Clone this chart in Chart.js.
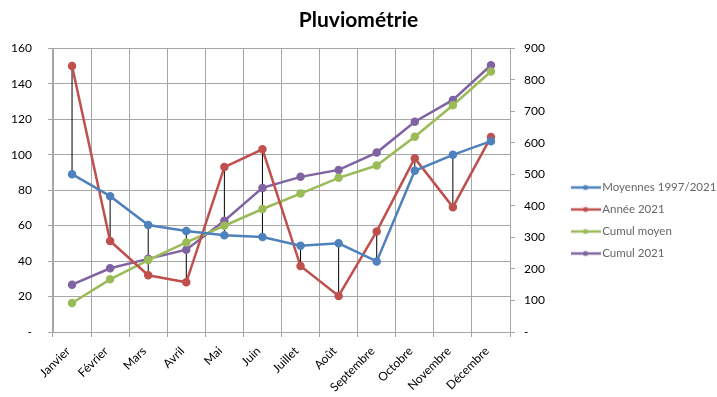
<!DOCTYPE html>
<html>
<head>
<meta charset="utf-8">
<script src="https://cdn.jsdelivr.net/npm/chart.js@4"></script>
<style>
  html, body { margin: 0; padding: 0; background: #fff; }
  #wrap { width: 717px; height: 397px; }
</style>
</head>
<body>
<div id="wrap"><canvas id="pluvioChart" width="717" height="397"></canvas></div>
<script>
// Pluviométrie mensuelle
const mois = ["Janvier", "Février", "Mars", "Avril", "Mai", "Juin", "Juillet", "Août", "Septembre", "Octobre", "Novembre", "Décembre"]
const moyennes = [89, 76.6, 60.3, 57, 54.6, 53.5, 48.6, 50, 39.8, 90.9, 99.9, 107.6]
const annee2021 = [150, 51.3, 32, 28, 93, 103, 37.2, 20.3, 56.7, 98, 70.4, 110]
const cumulMoyen = [92, 167, 228, 284, 337, 390, 439, 489, 528, 619, 719, 826]
const cumul2021 = [150, 202, 232, 261, 353, 457, 492, 514, 569, 667, 736, 846]

const leftTicks = [0, 20, 40, 60, 80, 100, 120, 140, 160]
const rightTicks = [0, 100, 200, 300, 400, 500, 600, 700, 800, 900]

const colors = {
  blue: "#4F81BD",
  red: "#C0504D",
  green: "#9BBB59",
  purple: "#8064A2",
}

// legend marker: line with a dot in the middle
function lineMarker(color) {
  const c = document.createElement("canvas")
  c.width = 30
  c.height = 8
  const g = c.getContext("2d")
  g.strokeStyle = color
  g.lineWidth = 2.5
  g.beginPath()
  g.moveTo(0, 4)
  g.lineTo(30, 4)
  g.stroke()
  g.fillStyle = color
  g.beginPath()
  g.arc(15, 4, 2.5, 0, Math.PI * 2)
  g.fill()
  return c
}

// high-low lines between the two primary-axis series
const highLow = moyennes.map((m, i) => [Math.min(m, annee2021[i]), Math.max(m, annee2021[i])])

function lineSet(label, data, color, axis) {
  return {
    type: "line",
    label: label,
    data: data,
    yAxisID: axis,
    borderColor: color,
    backgroundColor: color,
    borderWidth: 2.5,
    pointRadius: 3,
    pointHoverRadius: 3,
    pointBackgroundColor: color,
    pointBorderColor: color,
    tension: 0,
    order: 1,
    legendMarker: lineMarker(color),
  }
}

const fontFamily = "Lato, 'Open Sans', sans-serif"

document.addEventListener("DOMContentLoaded", () => {
  const ctx = document.getElementById("pluvioChart")
  new Chart(ctx, {
    data: {
      labels: mois,
      datasets: [
        {
          type: "bar",
          label: "hl",
          data: highLow,
          yAxisID: "y",
          backgroundColor: "#000000",
          barThickness: 1,
          inflateAmount: 0,
          order: 10,
        },
        lineSet("Moyennes 1997/2021", moyennes, colors.blue, "y"),
        lineSet("Année 2021", annee2021, colors.red, "y"),
        lineSet("Cumul moyen", cumulMoyen, colors.green, "y1"),
        lineSet("Cumul 2021", cumul2021, colors.purple, "y1"),
      ],
    },
    options: {
      responsive: false,
      animation: false,
      layout: {
        padding: { left: 0, right: 0, top: 8, bottom: 0 },
      },
      plugins: {
        title: {
          display: true,
          text: "Pluviométrie",
          color: "#000",
          font: { family: fontFamily, size: 21, weight: "bold" },
          padding: { top: 0, bottom: 15 },
        },
        legend: {
          position: "right",
          maxWidth: 153,
          title: { display: true, text: " ", font: { size: 30 }, padding: 0 },
          labels: {
            color: "#000",
            font: { family: fontFamily, size: 11.5 },
            usePointStyle: true,
            pointStyleWidth: 22,
            padding: 10.5,
            filter: (item) => item.datasetIndex > 0,
            generateLabels: (chart) =>
              chart.data.datasets.map((ds, i) => ({
                text: ds.label,
                pointStyle: ds.legendMarker || "rect",
                fillStyle: ds.backgroundColor,
                strokeStyle: ds.borderColor,
                lineWidth: 0,
                datasetIndex: i,
                hidden: false,
              })),
          },
        },
        tooltip: { enabled: false },
      },
      scales: {
        x: {
          offset: true,
          afterFit: (axis) => {
            axis.paddingLeft = 0
            axis.paddingRight = 0
            axis.height = 65
          },
          grid: {
            offset: true,
            color: "#A6A6A6",
            tickLength: 5,
          },
          border: { color: "#A6A6A6" },
          ticks: {
            color: "#000",
            font: { family: fontFamily, size: 12 },
            minRotation: 45,
            maxRotation: 45,
            padding: 7,
            labelOffset: -4,
          },
        },
        y: {
          position: "left",
          min: 0,
          max: 160,
          afterBuildTicks: (axis) => {
            axis.ticks = leftTicks.map((v) => ({ value: v }))
          },
          afterFit: (axis) => {
            axis.width = 53
          },
          grid: { color: "#A6A6A6", tickLength: 5 },
          border: { color: "#A6A6A6" },
          ticks: {
            color: "#000",
            font: { family: fontFamily, size: 12 },
            padding: 16,
            callback: (v) => (v === 0 ? "-" : v),
          },
        },
        y1: {
          position: "right",
          min: 0,
          max: 900,
          afterBuildTicks: (axis) => {
            axis.ticks = rightTicks.map((v) => ({ value: v }))
          },
          afterFit: (axis) => {
            axis.width = 54
          },
          grid: { drawOnChartArea: false, color: "#A6A6A6", tickLength: 5 },
          border: { color: "#A6A6A6" },
          ticks: {
            color: "#000",
            font: { family: fontFamily, size: 12 },
            padding: 9,
            callback: (v) => (v === 0 ? "-" : v),
          },
        },
      },
    },
  })
})
</script>
</body>
</html>
